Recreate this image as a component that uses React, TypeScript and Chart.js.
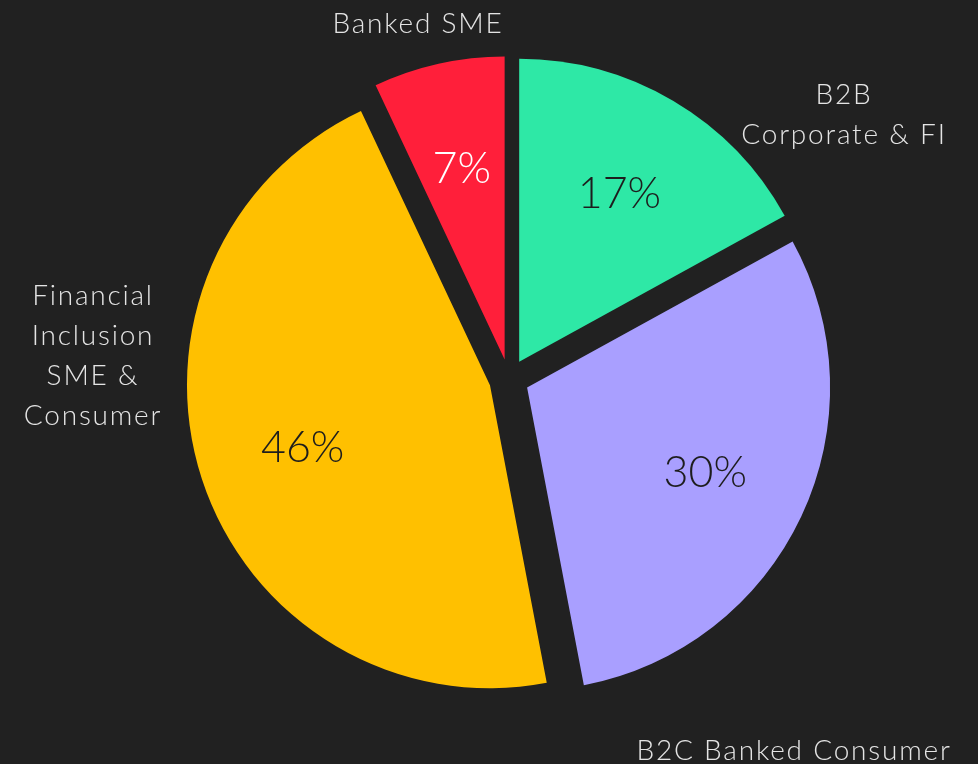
import React, { useEffect, useRef } from "react";
import { Chart, registerables } from "chart.js";

Chart.register(...registerables);

const categories = ["B2B Corporate & FI", "B2C Banked Consumer", "Financial Inclusion SME & Consumer", "Banked SME"];
const shares = [17, 30, 46, 7];
const percentLabels = ["17%", "30%", "46%", "7%"];
const outerLabelLines = [["B2B", "Corporate & FI"], ["B2C Banked Consumer"], ["Financial", "Inclusion", "SME &", "Consumer"], ["Banked SME"]];
const sliceColors = ["#2EE8A6", "#A99FFF", "#FFC000", "#FF1F3A"];
const percentColors = ["#1d1d1d", "#1d1d1d", "#1d1d1d", "#ffffff"];

const BG = "#212121";
const EXPLODE = 20; // px each slice is pulled out along its mid angle
const RADIUS = 303;
const FONT = "Lato, 'Open Sans', sans-serif";

// anchor offsets (from pie centre) for outer labels: [dx, first baseline dy]
const outerAnchors: [number, number][] = [
  [334, -275],
  [284, 381],
  [-417, -74],
  [-92, -346],
];
const LINE_H = 40;

// draws every arc element pulled out by the same distance
const explodePlugin = {
  id: "explode",
  beforeDatasetDraw(chart: any, args: any) {
    const ctx = chart.ctx;
    const meta = chart.getDatasetMeta(args.index);
    meta.data.forEach((arc: any) => {
      const mid = (arc.startAngle + arc.endAngle) / 2;
      ctx.save();
      ctx.translate(Math.cos(mid) * EXPLODE, Math.sin(mid) * EXPLODE);
      arc.draw(ctx);
      ctx.restore();
    });
    return false;
  },
};

const labelPlugin = {
  id: "sliceLabels",
  afterDatasetsDraw(chart: any) {
    const ctx = chart.ctx;
    const meta = chart.getDatasetMeta(0);
    ctx.save();
    meta.data.forEach((arc: any, i: number) => {
      const mid = (arc.startAngle + arc.endAngle) / 2;
      const ax = arc.x + Math.cos(mid) * EXPLODE;
      const ay = arc.y + Math.sin(mid) * EXPLODE;
      const r = arc.outerRadius * 0.65;
      const px = ax + Math.cos(mid) * r;
      const py = ay + Math.sin(mid) * r;
      ctx.font = `300 43px ${FONT}`;
      (ctx as any).letterSpacing = "0px";
      ctx.fillStyle = percentColors[i];
      ctx.textAlign = "center";
      ctx.textBaseline = "alphabetic";
      ctx.fillText(percentLabels[i], px, py + 16);

      const [dx, dy] = outerAnchors[i];
      ctx.font = `300 28px ${FONT}`;
      (ctx as any).letterSpacing = "1.8px";
      ctx.fillStyle = "#e4e4e4";
      outerLabelLines[i].forEach((line, j) => {
        ctx.fillText(line, arc.x + dx + 1, arc.y + dy + j * LINE_H);
      });
    });
    ctx.restore();
  },
};

export default function App() {
  const ref = useRef<HTMLCanvasElement | null>(null);
  useEffect(() => {
    if (!ref.current) return;
    const chart = new Chart(ref.current, {
      type: "pie",
      data: {
        labels: categories,
        datasets: [
          {
            data: shares,
            backgroundColor: sliceColors,
            borderWidth: 0,
            offset: 0,
            hoverOffset: 0,
          } as any,
        ],
      },
      options: {
        animation: false,
        responsive: true,
        maintainAspectRatio: false,
        radius: RADIUS,
        layout: { padding: { left: 40, right: 0, top: 0, bottom: 6 } },
        plugins: { legend: { display: false }, tooltip: { enabled: false } },
        events: [],
      } as any,
      plugins: [explodePlugin, labelPlugin],
    });
    return () => chart.destroy();
  }, []);
  return (
    <div style={{ position: "fixed", left: 0, top: 0, width: 978, height: 764, background: BG }}>
      <canvas ref={ref} />
    </div>
  );
}
